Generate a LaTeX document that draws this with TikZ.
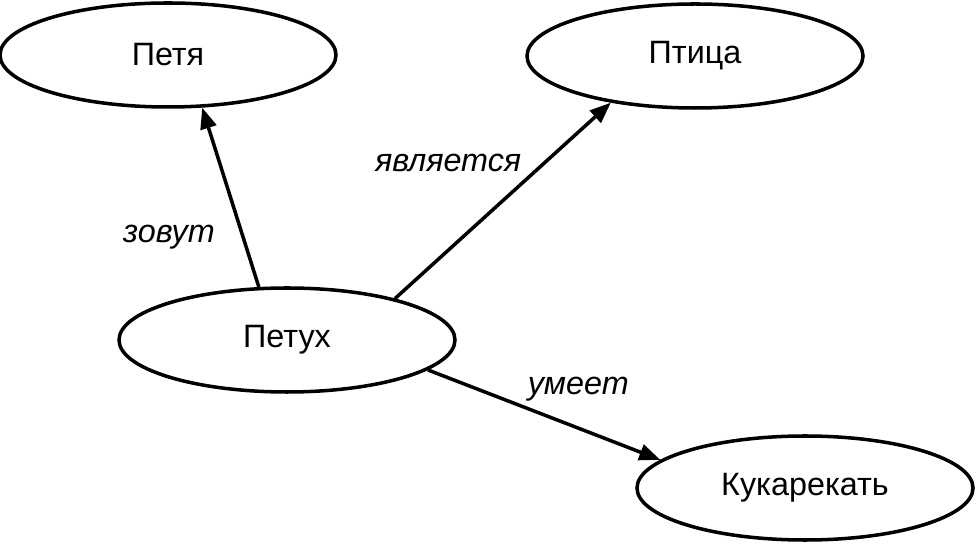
\documentclass[tikz,border=0pt]{standalone}
\usepackage{fontspec}
\setmainfont{Liberation Sans}
\usepackage{tikz}
\usetikzlibrary{calc,arrows.meta,shapes.geometric}

\begin{document}
\begin{tikzpicture}
[-{Triangle[length=15pt,width=11.5pt]}, line width=2.5pt,
			concept/.style={ellipse,draw,minimum width=8.4cm,minimum height=2.6cm,font=\fontsize{23}{27}\selectfont},
			rel/.style={font=\fontsize{23}{27}\selectfont\itshape}]
\useasboundingbox (0,0) rectangle (24.4,13.6);
\node (petya) at (4.2,12.225)[concept] {Петя};
\node (ptica) at (17.375,12.2)[concept] {Птица};
\node (petuh) at (7.175,5.1)[concept] {Петух};
\node (kukarekat) at (20.125,1.4)[concept] {Кукарекать};


\draw (petuh.118) -- node[rel,pos=0.28,xshift=-1.85cm] {зовут} (petya.303);
\draw (petuh.21.5) -- node[rel,pos=0.45,xshift=-1.1cm,yshift=1.18cm] {является} (ptica.209.5);
\draw (petuh.348.5) -- node[rel,pos=0.59,xshift=0.33cm,yshift=0.85cm] {умеет} (kukarekat.169);

\end{tikzpicture}
\end{document}
